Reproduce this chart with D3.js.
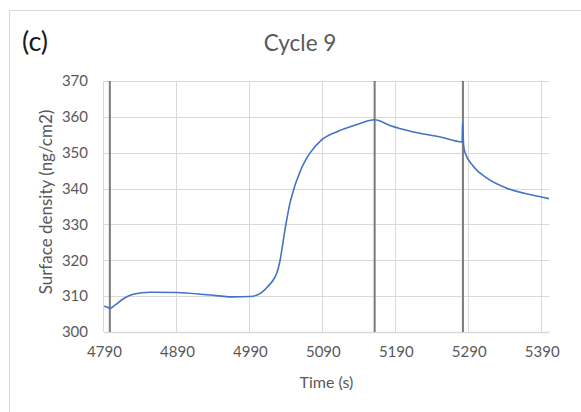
<!DOCTYPE html>
<html><head><meta charset="utf-8">
<script src="https://cdn.jsdelivr.net/npm/d3@7"></script>
<style>body{margin:0;background:#fff}svg{display:block}text{font-family:Lato,"Open Sans",sans-serif}</style>
</head><body><svg id="c" width="581" height="412"></svg>
<script>
const title = "Cycle 9";
const panelLabel = "(c)";
const xLabel = "Time (s)";
const yLabel = "Surface density (ng/cm2)";
const xTicks = [4790, 4890, 4990, 5090, 5190, 5290, 5390];
const yTicks = [300, 310, 320, 330, 340, 350, 360, 370];
const markerTimes = [4798, 5161, 5282];
const time = [4790,4795,4798,4805,4816,4830,4853,4890,4931,4967,4990,5000,5008,5015,5022,5027,5031,5038,5045,5049,5053,5057,5061,5066,5072,5088,5111,5136,5161,5182,5214,5251,5281,5281.5,5283,5285,5296,5315,5342,5377,5400];
const density = [307.2,306.9,306.6,307.5,309.2,310.5,311.1,311.0,310.4,309.8,309.9,310.3,311.3,312.8,314.5,316.5,319.6,328.4,336,339,341.6,343.8,345.8,347.8,349.8,353.5,356,357.8,359.2,357.6,355.8,354.4,353.0,358.5,352,350,346.3,342.9,340.1,338.2,337.2];

const svg = d3.select("#c");
const L = 104, R = 549, T = 81, B = 332;
const x = d3.scaleLinear().domain([4790, 5400]).range([L, R]);
const y = d3.scaleLinear().domain([300, 370]).range([B, T]);

// chart border (partially visible)
svg.append("path").attr("d", "M9.5,420V10.5H600").attr("fill","none").attr("stroke","#d9d9d9");

// gridlines
svg.append("g").selectAll("line").data(yTicks).join("line")
  .attr("x1", L).attr("x2", R).attr("y1", d=>Math.round(y(d))+0.5).attr("y2", d=>Math.round(y(d))+0.5)
  .attr("stroke", "#d9d9d9").attr("stroke-width", 1);
svg.append("g").selectAll("line").data(xTicks).join("line")
  .attr("y1", T).attr("y2", B).attr("x1", d=>Math.round(x(d))-0.5).attr("x2", d=>Math.round(x(d))-0.5)
  .attr("stroke", "#d9d9d9").attr("stroke-width", 1);

// axes via d3 axis
const xa = svg.append("g").attr("transform", `translate(0,${B})`)
  .call(d3.axisBottom(x).tickValues(xTicks).tickSize(0).tickPadding(14).tickFormat(d3.format("d")));
xa.select(".domain").attr("stroke", "#d9d9d9").attr("stroke-width", 1.5);
xa.selectAll("text").attr("fill", "#595959").attr("font-size", 15).attr("font-family","Lato");
const ya = svg.append("g").attr("transform", `translate(${L},0)`)
  .call(d3.axisLeft(y).tickValues(yTicks).tickSize(0).tickPadding(16).tickFormat(d3.format("d")));
ya.select(".domain").remove();
ya.selectAll("text").attr("fill", "#595959").attr("font-size", 15).attr("font-family","Lato");

// marker lines
svg.append("g").selectAll("line").data(markerTimes).join("line")
  .attr("x1", d=>x(d)).attr("x2", d=>x(d)).attr("y1", T).attr("y2", B)
  .attr("stroke", "#7a7a7a").attr("stroke-width", 2);

// data line
const line = d3.line().x((d,i)=>x(time[i])).y(d=>y(d)).curve(d3.curveMonotoneX);
svg.append("path").datum(density).attr("d", line)
  .attr("fill","none").attr("stroke","#4472c4").attr("stroke-width",1.6);

// texts
svg.append("text").attr("x", 22).attr("y", 51).attr("font-size", 27).attr("fill", "#1a1a1a").text(panelLabel);
svg.append("text").attr("x", 300).attr("y", 51).attr("text-anchor","middle").attr("font-size", 22.5).attr("fill", "#595959").text(title);
svg.append("text").attr("x", (L+R)/2).attr("y", 388).attr("text-anchor","middle").attr("font-size", 16).attr("fill", "#595959").text(xLabel);
svg.append("text").attr("transform", "translate(52,202) rotate(-90)").attr("text-anchor","middle").attr("font-size", 17).attr("fill", "#595959").text(yLabel);
</script></body></html>
